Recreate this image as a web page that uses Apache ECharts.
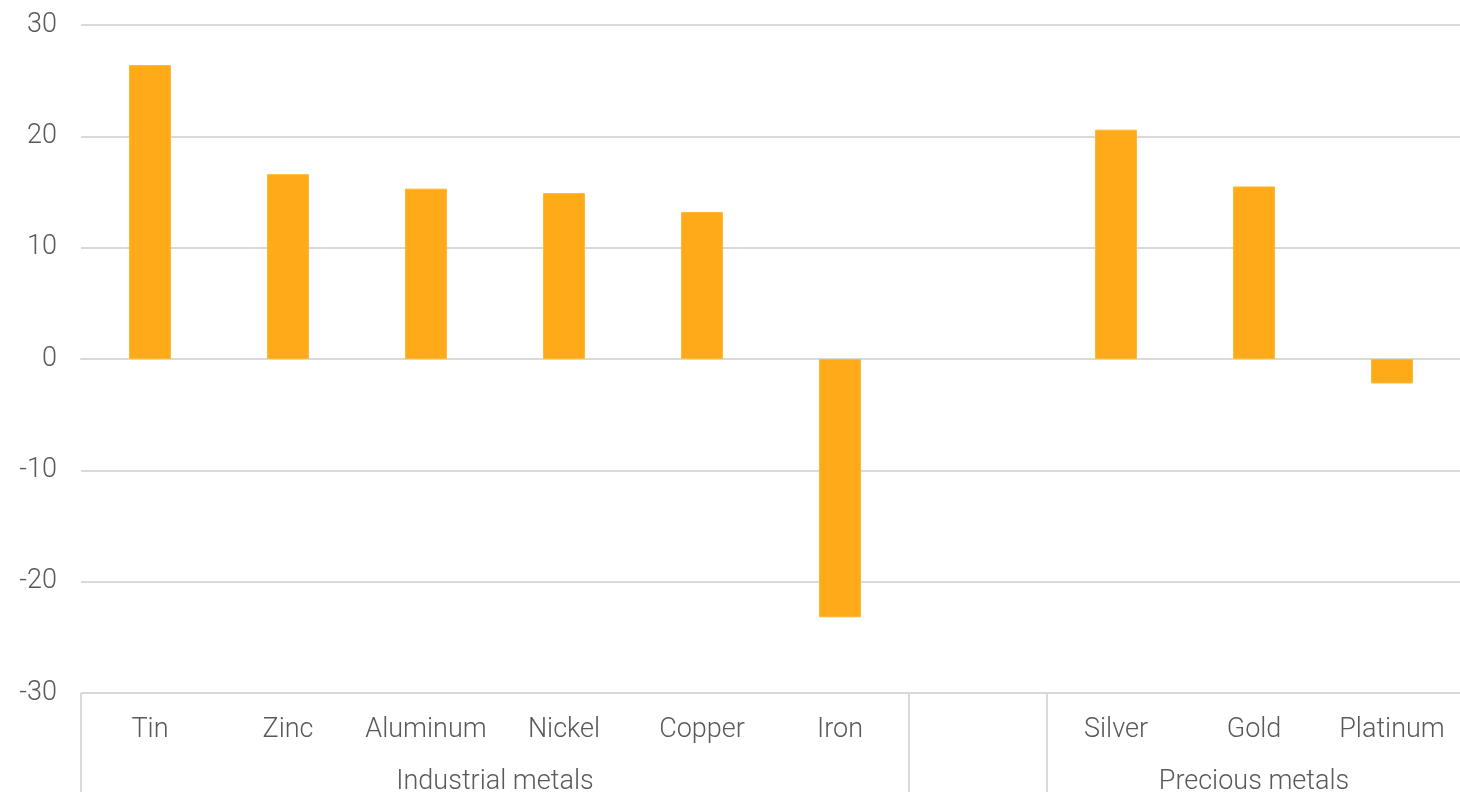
<!DOCTYPE html>
<html>
<head>
<meta charset="utf-8">
<style>
  html, body { margin: 0; padding: 0; background: #fff; }
  #chart { width: 1460px; height: 792px; }
</style>
<script src="https://cdn.jsdelivr.net/npm/echarts@6/dist/echarts.min.js"></script>
</head>
<body>
<div id="chart"></div>
<script>
// Metals and their % change
const categories = ['Tin', 'Zinc', 'Aluminum', 'Nickel', 'Copper', 'Iron', '', 'Silver', 'Gold', 'Platinum'];
const values = [26.4, 16.6, 15.3, 14.9, 13.2, -23.2, null, 20.6, 15.5, -2.2];
const groupNames = ['Industrial metals', '', 'Precious metals'];
const groupSpans = [6, 1, 3];
const yTicks = { min: -30, max: 30, interval: 10 };

// Group axis: 2*N+1 points so group centres and boundaries both land on ticks
const groupAxisData = new Array(categories.length * 2 + 1).fill('');
const groupBoundaries = [];
let start = 0;
groupNames.forEach((name, i) => {
  groupBoundaries.push(2 * start);
  groupAxisData[2 * start + groupSpans[i]] = name;
  start += groupSpans[i];
});

const textColor = '#595959';
const lineColor = '#d9d9d9';
const fontFamily = 'Roboto, "Noto Sans", sans-serif';
const fontSize = 27;

const chart = echarts.init(document.getElementById('chart'));
chart.setOption({
  animation: false,
  grid: { left: 81, right: -1, top: 25, bottom: 99, outerBoundsMode: 'none' },
  xAxis: [
    {
      type: 'category',
      data: categories,
      position: 'bottom',
      axisLine: { show: true, lineStyle: { color: lineColor, width: 2 } },
      axisTick: { show: false },
      axisLabel: {
        interval: 0, margin: 24, color: textColor,
        fontFamily, fontWeight: 300, fontSize
      },
      splitLine: { show: false }
    },
    {
      type: 'category',
      data: groupAxisData,
      boundaryGap: false,
      position: 'bottom',
      axisLine: { show: false },
      axisTick: {
        show: true, inside: false, length: 100,
        interval: (idx) => groupBoundaries.includes(idx),
        lineStyle: { color: lineColor, width: 2 }
      },
      axisLabel: {
        interval: 0, margin: 76, color: textColor,
        fontFamily, fontWeight: 300, fontSize
      },
      splitLine: { show: false }
    }
  ],
  yAxis: {
    type: 'value',
    min: yTicks.min, max: yTicks.max, interval: yTicks.interval,
    axisLine: { show: false },
    axisTick: { show: false },
    axisLabel: {
      margin: 24, color: textColor,
      fontFamily, fontWeight: 300, fontSize
    },
    splitLine: { lineStyle: { color: lineColor, width: 2 } }
  },
  series: [{
    type: 'bar',
    xAxisIndex: 0,
    data: values,
    barWidth: 42,
    itemStyle: { color: '#FFAB19', borderColor: '#FFB634', borderWidth: 1 }
  }]
});
</script>
</body>
</html>
